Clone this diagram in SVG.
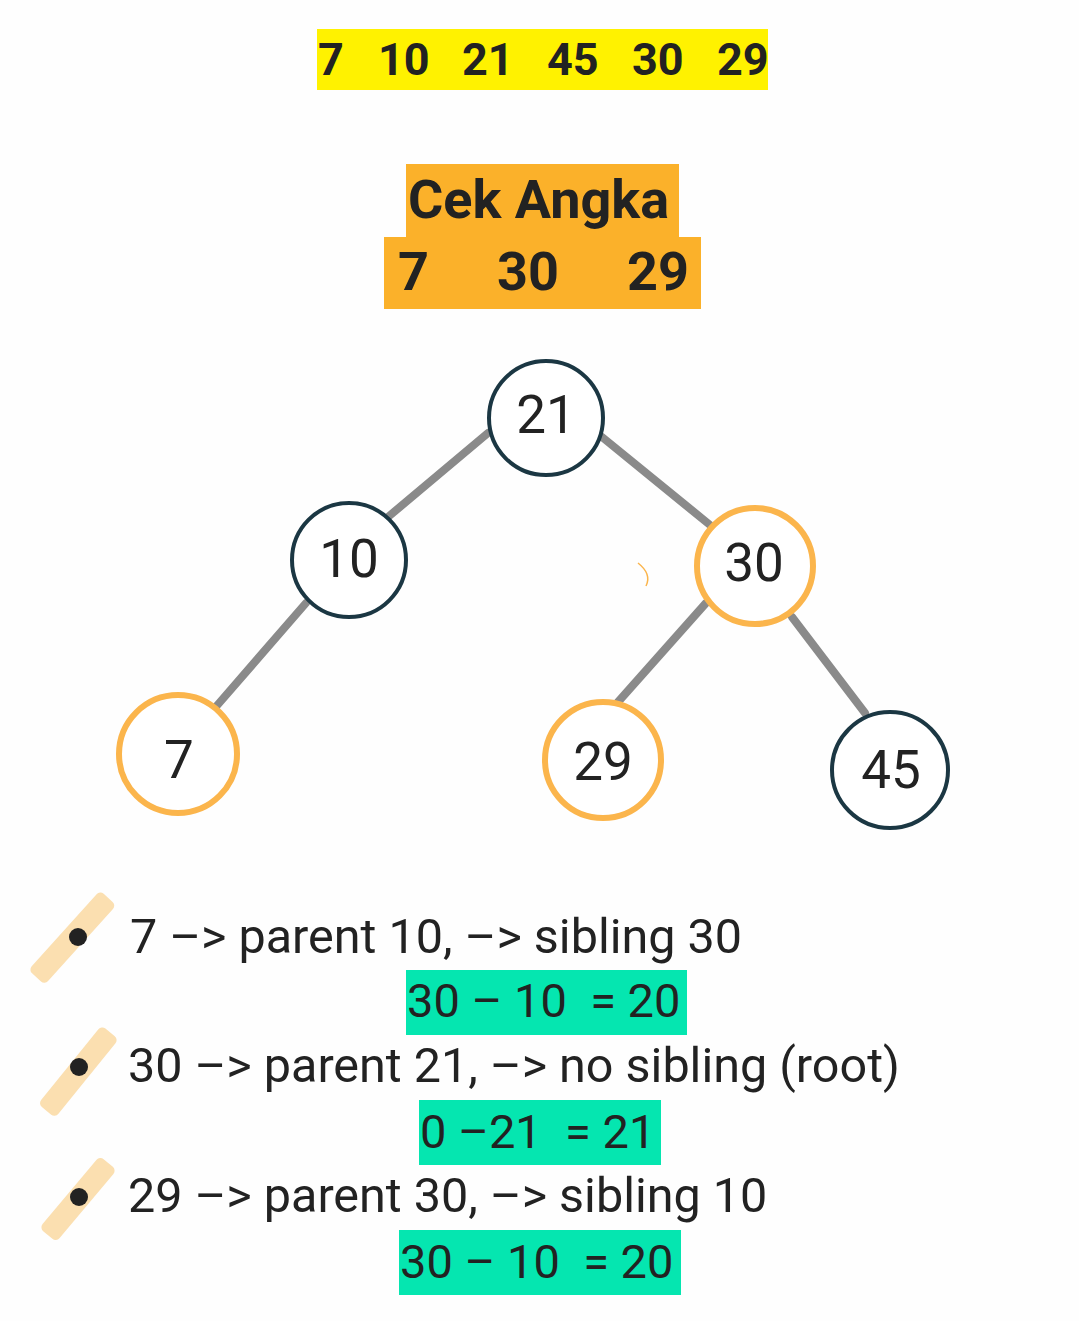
<svg xmlns="http://www.w3.org/2000/svg" width="1079" height="1321" viewBox="0 0 1079 1321">
<style>
text { font-family: Roboto, "Liberation Sans", sans-serif; fill: #222222; white-space: pre; }
.top { font-size: 45px; font-weight: bold; }
.head { font-size: 54px; font-weight: bold; }
.node { font-size: 53px; text-anchor: middle; }
.line { font-size: 48.5px; }
.calc { font-size: 47px; }
.dark { fill: #ffffff; stroke: #1b3743; stroke-width: 4; }
.hl { fill: #ffffff; stroke: #fbb54c; stroke-width: 6; }
.edge { stroke: #8a8a8a; stroke-width: 8; stroke-linecap: round; }
.marker { fill: #fbdfb0; }
.dot { fill: #222222; }
.green { fill: #05e6b0; }
</style>
<rect width="1079" height="1321" fill="#fefefe"/>
<g id="top-array">
<rect x="317" y="29" width="451" height="61" fill="#fff200"/>
<text class="top" x="318" y="75">7</text>
<text class="top" x="378" y="75">10</text>
<text class="top" x="462" y="75">21</text>
<text class="top" x="547" y="75">45</text>
<text class="top" x="632" y="75">30</text>
<text class="top" x="717" y="75">29</text>
</g>
<g id="cek-angka">
<rect x="406" y="164" width="273" height="74" fill="#fbb12a"/>
<rect x="384" y="237" width="317" height="72" fill="#fbb12a"/>
<text class="head" x="408" y="218">Cek Angka</text>
<text class="head" x="398" y="290">7</text>
<text class="head" x="497" y="290">30</text>
<text class="head" x="627" y="290">29</text>
</g>
<g id="connectors">
<line class="edge" x1="488" y1="433" x2="388" y2="517"/>
<line class="edge" x1="602" y1="437" x2="710" y2="525"/>
<line class="edge" x1="306" y1="603" x2="214" y2="709"/>
<line class="edge" x1="706" y1="603" x2="618" y2="702"/>
<line class="edge" x1="792" y1="617" x2="865" y2="713"/>
</g>
<path d="M638 563 Q652 574 646 586" fill="none" stroke="#fbb54c" stroke-width="1.5"/>
<g id="node-21">
<circle class="dark" cx="546" cy="418" r="57"/>
<text class="node" x="546" y="433">21</text>
</g>
<g id="node-10">
<circle class="dark" cx="349" cy="560" r="57"/>
<text class="node" x="349" y="577">10</text>
</g>
<g id="node-30">
<circle class="hl" cx="755" cy="566" r="58"/>
<text class="node" x="754" y="581">30</text>
</g>
<g id="node-7">
<circle class="hl" cx="178" cy="754" r="59"/>
<text class="node" x="179" y="778">7</text>
</g>
<g id="node-29">
<circle class="hl" cx="603" cy="760" r="58"/>
<text class="node" x="603" y="780">29</text>
</g>
<g id="node-45">
<circle class="dark" cx="890" cy="770" r="58"/>
<text class="node" x="891" y="788">45</text>
</g>
<g id="item-1">
<rect class="marker" x="19" y="927" width="107" height="22" rx="5" transform="rotate(-48 72 938)"/>
<circle class="dot" cx="78" cy="937" r="9"/>
<text class="line" x="130" y="953">7 –&gt; parent 10, –&gt; sibling 30</text>
<rect class="green" x="406" y="970" width="281" height="65"/>
<text class="calc" x="407" y="1017">30 – 10  = 20</text>
</g>
<g id="item-2">
<rect class="marker" x="28" y="1061" width="101" height="22" rx="5" transform="rotate(-51 78 1072)"/>
<circle class="dot" cx="79" cy="1067" r="9"/>
<text class="line" x="128" y="1082">30 –&gt; parent 21, –&gt; no sibling (root)</text>
<rect class="green" x="419" y="1100" width="242" height="65"/>
<text class="calc" x="420" y="1148">0 –21  = 21</text>
</g>
<g id="item-3">
<rect class="marker" x="31" y="1188" width="94" height="22" rx="5" transform="rotate(-50 78 1199)"/>
<circle class="dot" cx="79" cy="1197" r="9"/>
<text class="line" x="128" y="1212">29 –&gt; parent 30, –&gt; sibling 10</text>
<rect class="green" x="399" y="1230" width="282" height="65"/>
<text class="calc" x="400" y="1278">30 – 10  = 20</text>
</g>
</svg>
